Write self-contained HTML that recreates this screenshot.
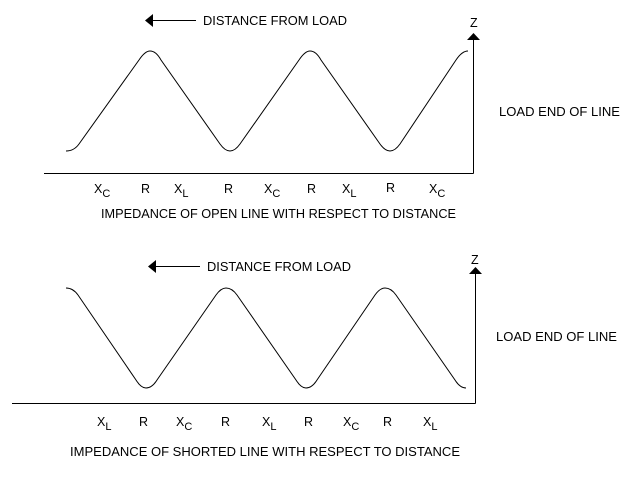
<!DOCTYPE html>
<html><head><style>
body{margin:0;background:#fff}
svg text{font-family:"Liberation Sans",Arial,sans-serif;font-size:12.5px;fill:#000}
</style></head><body>
<svg width="640" height="480" xmlns="http://www.w3.org/2000/svg">
<g fill="none" stroke="#000" stroke-width="1">
<line x1="44" y1="173.5" x2="473.5" y2="173.5"/>
<line x1="473.5" y1="173.5" x2="473.5" y2="40"/>
<path d="M66,151 Q74,151 79,144 L139,60 Q145,51 150,51 Q156,51 161,60 L220,144 Q225,151 230,151 Q235,151 240,144 L299,60 Q305,51 310,51 Q316,51 321,60 L380,144 Q385,151 390,151 Q395,151 400,144 L456,60 Q462,51 468,51"/>
<line x1="152" y1="20.5" x2="196" y2="20.5"/>
<line x1="12" y1="403.5" x2="475.5" y2="403.5"/>
<line x1="475.5" y1="403.5" x2="475.5" y2="274"/>
<path d="M66,288 Q73,288 78,295 L136,380 Q141,388 146,388 Q152,388 157,380 L216,295 Q221,288 226,288 Q232,288 237,295 L296,380 Q301,388 306,388 Q312,388 317,380 L375,295 Q380,288 385,288 Q391,288 396,295 L455,380 Q460,388 466,388"/>
<line x1="155" y1="266.5" x2="200" y2="266.5"/>
</g>
<g fill="#000">
<polygon points="145,20.5 153,14 153,27"/>
<polygon points="467,40 480,40 473.5,33"/>
<polygon points="148,266.5 156,260 156,273"/>
<polygon points="469,274 482,274 475.5,267"/>
</g>
<text x="203" y="25" textLength="144" lengthAdjust="spacingAndGlyphs">DISTANCE FROM LOAD</text>
<text x="470" y="27">Z</text>
<text x="499" y="116" textLength="121" lengthAdjust="spacingAndGlyphs">LOAD END OF LINE</text>
<text x="94" y="193">X<tspan font-size="11" dy="4">C</tspan></text>
<text x="141" y="193">R</text>
<text x="174" y="193">X<tspan font-size="11" dy="4">L</tspan></text>
<text x="224" y="193">R</text>
<text x="264" y="193">X<tspan font-size="11" dy="4">C</tspan></text>
<text x="307" y="193">R</text>
<text x="342" y="193">X<tspan font-size="11" dy="4">L</tspan></text>
<text x="386" y="192">R</text>
<text x="429" y="193">X<tspan font-size="11" dy="4">C</tspan></text>
<text x="101" y="218" textLength="355" lengthAdjust="spacingAndGlyphs">IMPEDANCE OF OPEN LINE WITH RESPECT TO DISTANCE</text>
<text x="207" y="271" textLength="144" lengthAdjust="spacingAndGlyphs">DISTANCE FROM LOAD</text>
<text x="471" y="264">Z</text>
<text x="496" y="341" textLength="121" lengthAdjust="spacingAndGlyphs">LOAD END OF LINE</text>
<text x="97" y="426">X<tspan font-size="11" dy="4">L</tspan></text>
<text x="139" y="426">R</text>
<text x="176" y="426">X<tspan font-size="11" dy="4">C</tspan></text>
<text x="221" y="426">R</text>
<text x="262" y="426">X<tspan font-size="11" dy="4">L</tspan></text>
<text x="304" y="426">R</text>
<text x="343" y="426">X<tspan font-size="11" dy="4">C</tspan></text>
<text x="383" y="426">R</text>
<text x="423" y="426">X<tspan font-size="11" dy="4">L</tspan></text>
<text x="70" y="456" textLength="390" lengthAdjust="spacingAndGlyphs">IMPEDANCE OF SHORTED LINE WITH RESPECT TO DISTANCE</text>
</svg>
</body></html>
